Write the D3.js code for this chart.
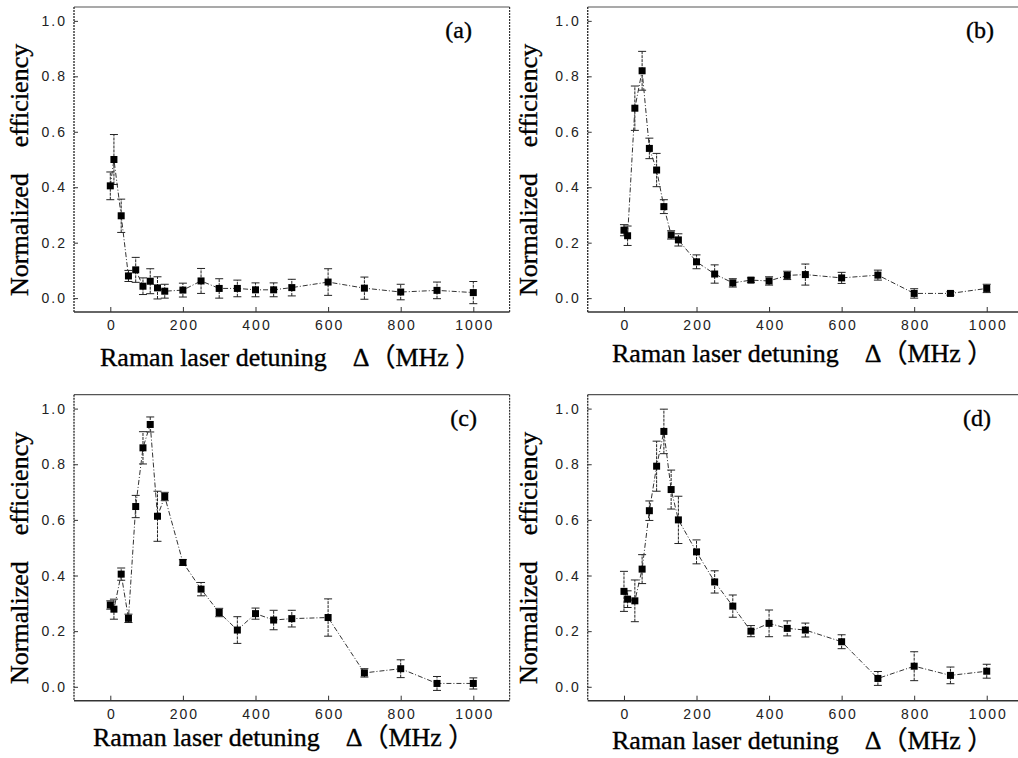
<!DOCTYPE html>
<html>
<head>
<meta charset="utf-8">
<script src="https://cdn.jsdelivr.net/npm/d3@7"></script>
<style>
  html, body { margin: 0; padding: 0; background: #fff; }
  svg { display: block; }
  .tick text { font-family: "Liberation Sans", Arial, sans-serif; font-size: 14px; letter-spacing: 2px; fill: #222; }
  .serif { font-family: "Liberation Serif", "Times New Roman", "Noto Sans CJK SC", serif; fill: #000; stroke: #000; stroke-width: 0.35px; white-space: pre; }
</style>
</head>
<body>
<svg id="fig" width="1018" height="758"></svg>
<script>
// Detuning values shared by all four measurement sets (MHz)
const detuning = [0, 10, 30, 50, 70, 90, 110, 130, 150, 200, 250, 300, 350, 400, 450, 500, 600, 700, 800, 900, 1000];

// Normalized efficiency and error half-widths, one pair of arrays per panel
const effA = [0.405, 0.50, 0.297, 0.080, 0.102, 0.043, 0.061, 0.037, 0.025, 0.029, 0.062, 0.035, 0.035, 0.030, 0.030, 0.038, 0.058, 0.036, 0.022, 0.028, 0.020];
const errA = [0.05, 0.09, 0.06, 0.02, 0.045, 0.03, 0.045, 0.04, 0.025, 0.025, 0.045, 0.035, 0.03, 0.025, 0.025, 0.03, 0.048, 0.04, 0.028, 0.03, 0.04];

const effB = [0.245, 0.225, 0.685, 0.82, 0.54, 0.462, 0.33, 0.228, 0.21, 0.131, 0.087, 0.055, 0.065, 0.062, 0.082, 0.085, 0.073, 0.083, 0.017, 0.017, 0.035];
const errB = [0.02, 0.035, 0.08, 0.07, 0.037, 0.06, 0.025, 0.015, 0.022, 0.025, 0.033, 0.015, 0.008, 0.015, 0.015, 0.038, 0.02, 0.018, 0.017, 0.006, 0.015];

const effC = [0.294, 0.279, 0.405, 0.246, 0.648, 0.859, 0.943, 0.613, 0.684, 0.447, 0.351, 0.267, 0.204, 0.263, 0.24, 0.245, 0.249, 0.05, 0.065, 0.012, 0.012];
const errC = [0.015, 0.036, 0.022, 0.015, 0.04, 0.058, 0.027, 0.09, 0.015, 0.01, 0.024, 0.015, 0.048, 0.02, 0.035, 0.03, 0.067, 0.015, 0.032, 0.025, 0.02];

const effD = [0.343, 0.315, 0.309, 0.423, 0.633, 0.793, 0.918, 0.709, 0.60, 0.485, 0.377, 0.29, 0.20, 0.228, 0.21, 0.204, 0.162, 0.03, 0.074, 0.041, 0.056];
const errD = [0.072, 0.03, 0.075, 0.052, 0.035, 0.09, 0.08, 0.07, 0.085, 0.043, 0.04, 0.04, 0.02, 0.048, 0.027, 0.025, 0.025, 0.025, 0.052, 0.03, 0.025];

// Axis ticks and labels
const xTicks = [0, 200, 400, 600, 800, 1000];
const yTicks = [0, 0.2, 0.4, 0.6, 0.8, 1.0];
const xDomain = [-100, 1100];
const yDomain = [-0.05, 1.05];
const panelTags = ["(a)", "(b)", "(c)", "(d)"];
const xTitle = "Raman laser detuning\u3000\u0394\uFF08MHz \uFF09";
const yTitle = "Normalized    efficiency";

// Frame placement of each panel on the page
const frames = [
  { left: 74,    right: 509.6, top: 7,     bottom: 312,   xt: 100, xtY: 366, ytX: 28,  ytY: 296, tagX: 472, tagY: 38 },
  { left: 587.7, right: 1023,  top: 7,     bottom: 312,   xt: 612, xtY: 362, ytX: 537, ytY: 296, tagX: 994, tagY: 38 },
  { left: 74,    right: 509.6, top: 394.7, bottom: 700.7, xt: 93,  xtY: 746, ytX: 28,  ytY: 684, tagX: 477, tagY: 426 },
  { left: 587.7, right: 1023,  top: 394.7, bottom: 700.7, xt: 612, xtY: 749, ytX: 537, ytY: 684, tagX: 991, tagY: 426 }
];

const seriesList = [[effA, errA], [effB, errB], [effC, errC], [effD, errD]];
const svg = d3.select("#fig");

seriesList.forEach(([eff, err], i) => {
  const f = frames[i];
  const x = d3.scaleLinear().domain(xDomain).range([f.left, f.right]);
  const y = d3.scaleLinear().domain(yDomain).range([f.bottom, f.top]);
  const pts = detuning.map((d, k) => ({ d, v: eff[k], e: err[k] }));
  const g = svg.append("g");

  // plot frame: solid top/bottom, dotted sides
  const fr = g.append("g").attr("fill", "none").attr("stroke", "#333");
  fr.append("line").attr("x1", f.left).attr("x2", f.right).attr("y1", f.bottom).attr("y2", f.bottom).attr("stroke-width", 1.4);
  fr.append("line").attr("x1", f.left).attr("x2", f.right).attr("y1", f.top).attr("y2", f.top).attr("stroke-width", 1.2).attr("stroke", "#555");
  fr.append("line").attr("x1", f.left).attr("x2", f.left).attr("y1", f.top).attr("y2", f.bottom).attr("stroke-width", 1.4).attr("stroke-dasharray", "2,1");
  fr.append("line").attr("x1", f.right).attr("x2", f.right).attr("y1", f.top).attr("y2", f.bottom).attr("stroke-width", 1.2).attr("stroke-dasharray", "2,1");

  // axes with inward ticks
  const ax = g.append("g").attr("transform", `translate(0,${f.bottom})`)
    .call(d3.axisBottom(x).tickValues(xTicks).tickSize(-5).tickPadding(8).tickFormat(d3.format("d")));
  ax.select(".domain").remove();
  ax.selectAll(".tick line").attr("stroke", "#333");
  ax.selectAll(".tick text").attr("dx", "1px");

  const ay = g.append("g").attr("transform", `translate(${f.left},0)`)
    .call(d3.axisLeft(y).tickValues(yTicks).tickSize(-4).tickPadding(7).tickFormat(d3.format(".1f")));
  ay.select(".domain").remove();
  ay.selectAll(".tick line").attr("stroke", "#333");

  // error bars
  const eb = g.append("g").attr("stroke", "#222").attr("stroke-width", 1);
  eb.selectAll("line.stem").data(pts).join("line").attr("class", "stem")
    .attr("x1", p => x(p.d)).attr("x2", p => x(p.d))
    .attr("y1", p => y(p.v - p.e)).attr("y2", p => y(p.v + p.e))
    .attr("stroke-dasharray", "3,1");
  eb.selectAll("line.capT").data(pts).join("line").attr("class", "capT")
    .attr("x1", p => x(p.d) - 4).attr("x2", p => x(p.d) + 4)
    .attr("y1", p => y(p.v + p.e)).attr("y2", p => y(p.v + p.e));
  eb.selectAll("line.capB").data(pts).join("line").attr("class", "capB")
    .attr("x1", p => x(p.d) - 4).attr("x2", p => x(p.d) + 4)
    .attr("y1", p => y(p.v - p.e)).attr("y2", p => y(p.v - p.e));

  // connecting dash-dot line
  g.append("path").datum(pts)
    .attr("fill", "none").attr("stroke", "#333").attr("stroke-width", 1)
    .attr("stroke-dasharray", "5,2,1,2")
    .attr("d", d3.line().x(p => x(p.d)).y(p => y(p.v)));

  // square markers
  g.selectAll("rect.pt").data(pts).join("rect").attr("class", "pt")
    .attr("x", p => x(p.d) - 3.5).attr("y", p => y(p.v) - 3.5)
    .attr("width", 7).attr("height", 7).attr("fill", "#000");

  // titles and panel tag
  g.append("text").attr("class", "serif")
    .attr("x", f.xt).attr("y", f.xtY).attr("font-size", 26).text(xTitle);
  g.append("text").attr("class", "serif")
    .attr("transform", `translate(${f.ytX},${f.ytY}) rotate(-90)`)
    .attr("font-size", 26).text(yTitle);
  g.append("text").attr("class", "serif")
    .attr("x", f.tagX).attr("y", f.tagY).attr("text-anchor", "end")
    .attr("font-size", 24).text(panelTags[i]);
});
</script>
</body>
</html>
